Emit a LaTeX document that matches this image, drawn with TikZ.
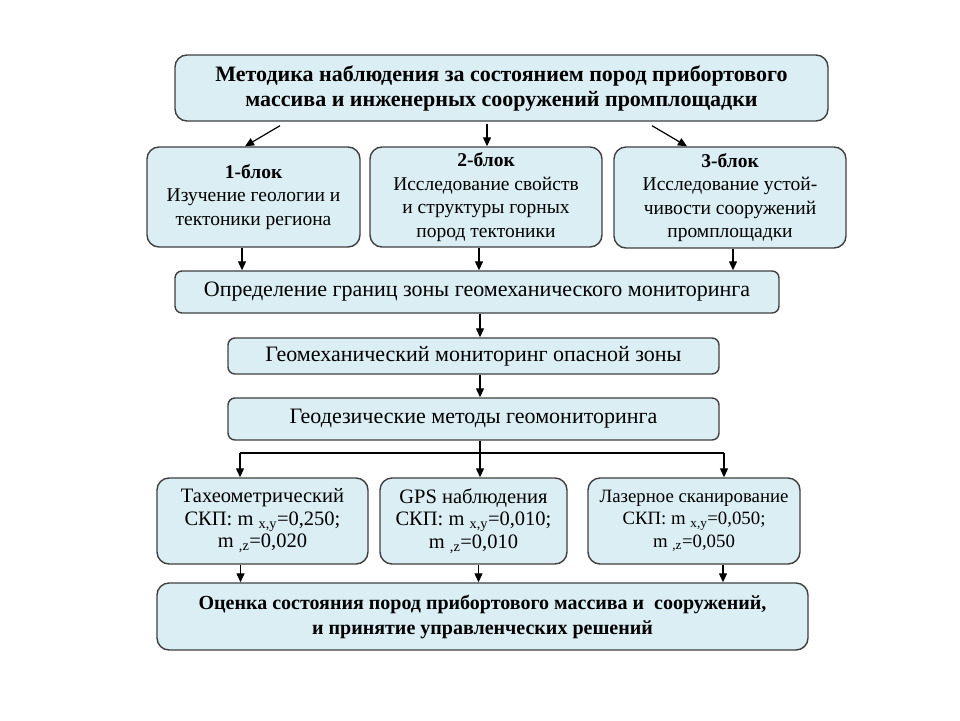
\documentclass[tikz,border=0pt]{standalone}
\usepackage{fontspec}
\setmainfont{Liberation Serif}
\usetikzlibrary{arrows.meta,calc}
\definecolor{boxfill}{HTML}{DAEEF3}
\definecolor{boxline}{HTML}{404040}
\tikzset{
  box/.style={draw=boxline, line width=1.4pt, fill=boxfill, rounded corners=12pt, inner sep=0pt, align=center, font=\fontsize{19.5}{23.5}\selectfont},
  thin/.style={box, rounded corners=7pt, font=\fontsize{22}{25}\selectfont},
  low/.style={box, font=\fontsize{20.5}{22.5}\selectfont},
  arr/.style={line width=1.2pt, draw=black, -{Triangle[length=9pt,width=8pt]}},
  ln/.style={line width=1.2pt, draw=black}
}
\begin{document}
\begin{tikzpicture}[x=1pt,y=-1pt]
\useasboundingbox[fill=white] (0,0) rectangle (960,720);
\node[box, minimum width=653pt, minimum height=66pt, font=\bfseries\fontsize{22}{25}\selectfont] (top) at (501.5,88)
  {Методика наблюдения за состоянием пород прибортового\\массива и инженерных сооружений промплощадки};
\node[box, minimum width=213pt, minimum height=100pt] (b1) at (253.5,197)
  {\textbf{1-блок}\\Изучение геологии и\\тектоники региона};
\node[box, minimum width=232pt, minimum height=100pt] (b2) at (486,197)
  {\textbf{2-блок}\\Исследование свойств\\и структуры горных\\пород тектоники};
\node[box, minimum width=232pt, minimum height=101pt] (b3) at (730,197.5)
  {\textbf{3-блок}\\Исследование устой-\\чивости сооружений\\промплощадки};
\node[thin, minimum width=604pt, minimum height=42pt] (opr) at (477,292)
  {Определение границ зоны геомеханического мониторинга};
\node[thin, minimum width=491pt, minimum height=36pt] (gm) at (473.5,356)
  {Геомеханический мониторинг опасной зоны};
\node[thin, minimum width=491pt, minimum height=42pt] (gd) at (473.5,419)
  {Геодезические методы геомониторинга};
\node[low, minimum width=211pt, minimum height=86pt] (t1) at (262.5,521)
  {Тахеометрический\\СКП: m \textsubscript{x,y}=0,250;\\m \textsubscript{,z}=0,020};
\node[low, minimum width=187pt, minimum height=86pt] (t2) at (473.5,521)
  {GPS наблюдения\\СКП: m \textsubscript{x,y}=0,010;\\m \textsubscript{,z}=0,010};
\node[low, minimum width=212pt, minimum height=86pt, font=\fontsize{18.8}{22.5}\selectfont] (t3) at (694,521)
  {Лазерное сканирование\\СКП: m \textsubscript{x,y}=0,050;\\m \textsubscript{,z}=0,050};
\node[box, minimum width=651pt, minimum height=67pt, font=\bfseries\fontsize{20}{25}\selectfont] (bot) at (482.5,616.5)
  {Оценка состояния пород прибортового массива и\ \ сооружений,\\и принятие управленческих решений};
% top arrows
\draw[arr] ([xshift=-221.5pt,yshift=-4pt]top.south) -- ([xshift=-8.5pt]b1.north);
\draw[arr] ([xshift=-14.5pt,yshift=-2pt]top.south) -- ([xshift=1pt]b2.north);
\draw[arr] ([xshift=150.5pt,yshift=-4pt]top.south) -- ([xshift=-43pt]b3.north);
% blocks to opr
\draw[arr] ([xshift=-11.5pt]b1.south) -- ([xshift=-11.5pt]b1.south |- opr.north);
\draw[arr] ([xshift=-7pt]b2.south) -- ([xshift=-7pt]b2.south |- opr.north);
\draw[arr] ([xshift=3pt]b3.south) -- ([xshift=3pt]b3.south |- opr.north);
% chain
\draw[arr] ([xshift=3pt]opr.south) -- ([xshift=3pt]opr.south |- gm.north);
\draw[arr] ([xshift=6.5pt]gm.south) -- ([xshift=6.5pt]gm.south |- gd.north);
% branch
\coordinate (br) at (480,453);
\coordinate (brL) at (240,453);
\coordinate (brR) at (724,453);
\draw[ln] ([xshift=6.5pt]gd.south) -- (br);
\draw[ln] (brL) -- (brR);
\draw[arr] (brL) -- (brL |- t1.north);
\draw[arr] (br) -- (br |- t2.north);
\draw[arr] (brR) -- (brR |- t3.north);
% to bottom
\draw[arr] ([xshift=-22pt]t1.south) -- ([xshift=-22pt]t1.south |- bot.north);
\draw[arr] ([xshift=5pt]t2.south) -- ([xshift=5pt]t2.south |- bot.north);
\draw[arr] ([xshift=29pt]t3.south) -- ([xshift=29pt]t3.south |- bot.north);
\end{tikzpicture}
\end{document}
